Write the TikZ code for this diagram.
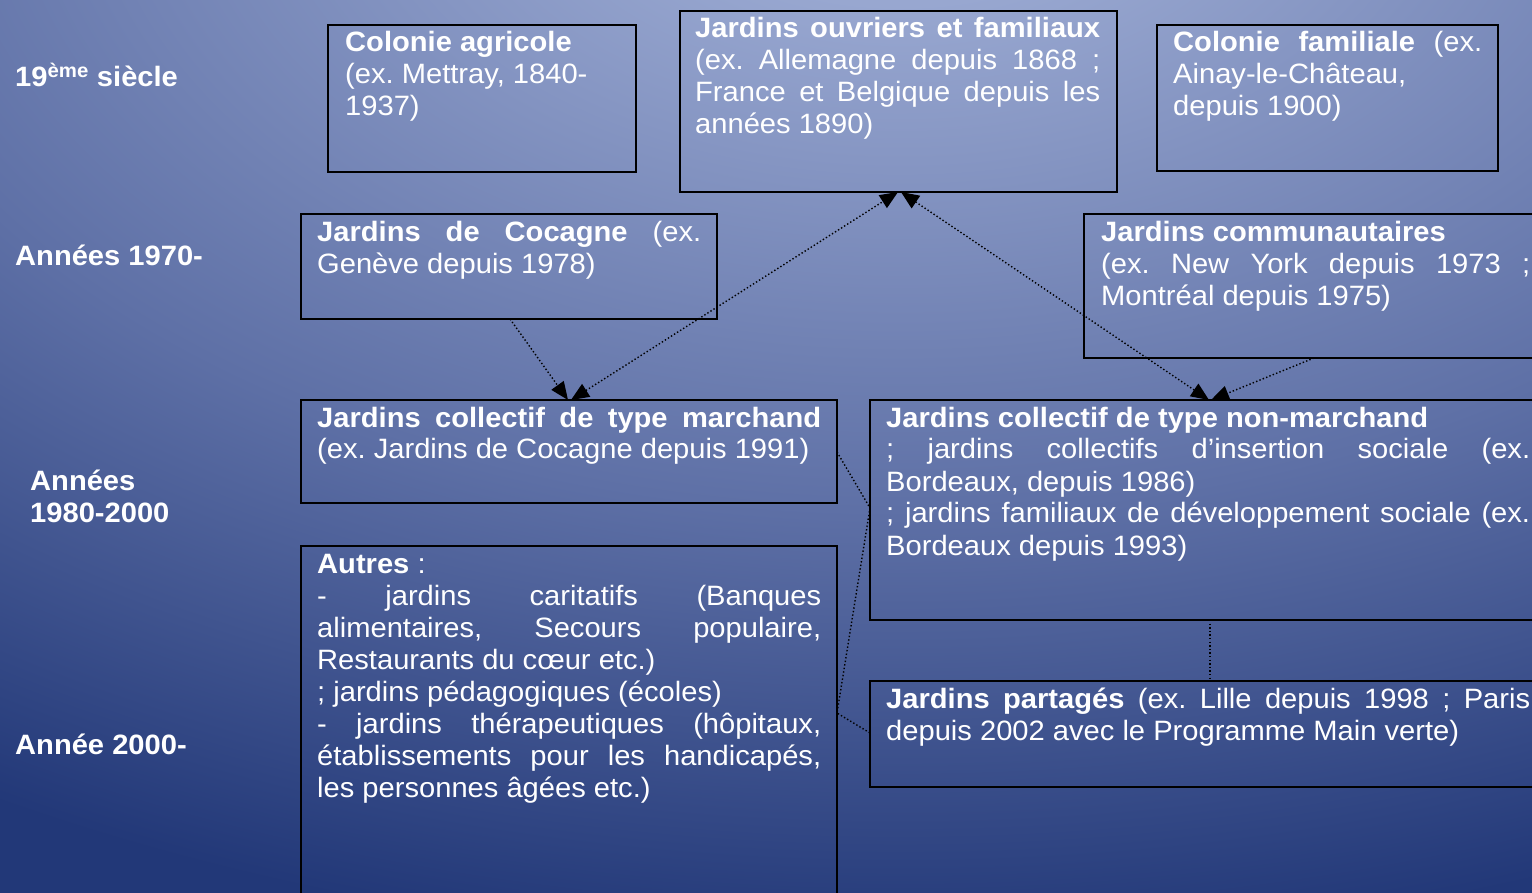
\documentclass[tikz,border=0pt]{standalone}
\usepackage{fontspec}
\setmainfont{Liberation Sans}[FakeStretch=1.04]
\usetikzlibrary{arrows.meta}
\definecolor{bgA}{RGB}{170,184,220}
\definecolor{bgB}{RGB}{152,167,208}
\definecolor{bgC}{RGB}{94,112,166}
\definecolor{bgD}{RGB}{34,56,120}
\pgfdeclareradialshading{bgshade}{\pgfpoint{0bp}{0bp}}{color(0bp)=(bgA); color(3.5bp)=(bgB); color(15bp)=(bgC); color(25bp)=(bgD); color(50bp)=(bgD)}
\newcommand{\jl}[2]{\makebox[#1][s]{#2}}
\frenchspacing
\begin{document}
\begin{tikzpicture}[x=1pt,y=-1pt,
  box/.style={draw=black, line width=1.5pt, anchor=north west, inner sep=0pt, outer sep=0pt},
  txt/.style={anchor=base west, inner sep=0pt, text=white, font=\fontsize{28}{32}\selectfont},
  lbl/.style={anchor=base west, inner sep=0pt, text=white, font=\fontsize{28}{32}\selectfont\bfseries},
  conn/.style={draw=black, line width=1.4pt, dash pattern=on 1.4pt off 2.2pt},
  tipend/.style={-{Triangle[length=18pt,width=15pt]}},
  tipboth/.style={{Triangle[length=18pt,width=15pt]}-{Triangle[length=18pt,width=15pt]}}]
\useasboundingbox (0,0) rectangle (1532,893);
\clip (0,0) rectangle (1532,893);
% background
\fill[bgD] (0,0) rectangle (1532,893);
\shade[shading=bgshade] (900,-150) ellipse [x radius=1800pt, y radius=1100pt];

% left labels
\node[lbl] (l19) at (15,87) {19\textsuperscript{ème} siècle};
\node[lbl] (l70) at (15,266) {Années 1970-};
\node[lbl] (l80) at (30,490) {\parbox[t]{200pt}{Années\\1980-2000}};
\node[lbl] (l00) at (15,754) {Année 2000-};

% boxes
\node[box, minimum width=308pt, minimum height=147pt] (colagr) at (328,25) {};
\node[box, minimum width=437pt, minimum height=181pt] (ouv) at (680,11) {};
\node[box, minimum width=341pt, minimum height=146pt] (colfam) at (1157,25) {};
\node[box, minimum width=416pt, minimum height=105pt] (coc) at (301,214) {};
\node[box, minimum width=462pt, minimum height=144pt] (com) at (1084,214) {};
\node[box, minimum width=536pt, minimum height=103pt] (mar) at (301,400) {};
\node[box, minimum width=676pt, minimum height=220pt] (nm) at (870,400) {};
\node[box, minimum width=536pt, minimum height=400pt] (aut) at (301,546) {};
\node[box, minimum width=676pt, minimum height=106pt] (par) at (870,681) {};

% texts
\node[txt] (colagrT) at (345,52) {\parbox[t]{280pt}{\raggedright\textbf{Colonie agricole}\\(ex. Mettray, 1840-\\1937)}};
\node[txt] (ouvT) at (695,38) {\parbox[t]{405pt}{\raggedright
  \jl{405pt}{\textbf{Jardins ouvriers et familiaux}}\\
  \jl{405pt}{(ex. Allemagne depuis 1868 ;}\\
  \jl{405pt}{France et Belgique depuis les}\\
  années 1890)}};
\node[txt] (colfamT) at (1173,52) {\parbox[t]{309pt}{\raggedright
  \jl{309pt}{\textbf{Colonie familiale} (ex.}\\
  Ainay-le-Château,\\
  depuis 1900)}};
\node[txt] (cocT) at (317,242) {\parbox[t]{384pt}{\raggedright
  \jl{384pt}{\textbf{Jardins de Cocagne} (ex.}\\
  Genève depuis 1978)}};
\node[txt] (comT) at (1101,242) {\parbox[t]{429pt}{\raggedright
  \textbf{Jardins communautaires}\\
  \jl{429pt}{(ex. New York depuis 1973 ;}\\
  Montréal depuis 1975)}};
\node[txt] (marT) at (317,427) {\parbox[t]{504pt}{\raggedright
  \jl{504pt}{\textbf{Jardins collectif de type marchand}}\\
  (ex. Jardins de Cocagne depuis 1991)}};
\node[txt] (nmT) at (886,427) {\parbox[t]{644pt}{\raggedright
  \textbf{Jardins collectif de type non-marchand}\\
  \jl{644pt}{; jardins collectifs d’insertion sociale (ex.}\\
  Bordeaux, depuis 1986)\\
  \jl{644pt}{; jardins familiaux de développement sociale (ex.}\\
  Bordeaux depuis 1993)}};
\node[txt] (autT) at (317,573) {\parbox[t]{504pt}{\raggedright
  \textbf{Autres} :\\
  \jl{504pt}{- jardins caritatifs (Banques}\\
  \jl{504pt}{alimentaires, Secours populaire,}\\
  Restaurants du cœur etc.)\\
  ; jardins pédagogiques (écoles)\\
  \jl{504pt}{- jardins thérapeutiques (hôpitaux,}\\
  \jl{504pt}{établissements pour les handicapés,}\\
  les personnes âgées etc.)}};
\node[txt] (parT) at (886,708) {\parbox[t]{644pt}{\raggedright
  \jl{644pt}{\textbf{Jardins partagés} (ex. Lille depuis 1998 ; Paris}\\
  depuis 2002 avec le Programme Main verte)}};

% connector points on box borders
\path (coc.south west) ++(209,0) coordinate (cocB);
\path (mar.north west) ++(267,0) coordinate (marT1);
\path (mar.north west) ++(270,0) coordinate (marT2);
\path (ouv.south west) ++(218,0) coordinate (ouvB1);
\path (ouv.south west) ++(221,0) coordinate (ouvB2);
\path (nm.north west) ++(339,0) coordinate (nmT1);
\path (nm.north west) ++(341,0) coordinate (nmT2);
\path (com.south west) ++(230,0) coordinate (comB);
\path (mar.north east) ++(0,52) coordinate (marE);
\path (nm.north west) ++(0,108) coordinate (nmW);
\path (aut.north east) ++(0,167) coordinate (autE);
\path (par.north west) ++(0,52) coordinate (parW);
\path (nm.south west) ++(340,0) coordinate (nmB);
\path (par.north west) ++(340,0) coordinate (parTop);

% connectors
\draw[conn, tipend] (cocB) -- (marT1);
\draw[conn, tipboth] (marT2) -- (ouvB1);
\draw[conn, tipboth] (ouvB2) -- (nmT1);
\draw[conn, tipend] (comB) -- (nmT2);
\draw[conn] (marE) -- (nmW) -- (autE) -- (parW);
\draw[conn] (nmB) -- (parTop);
\end{tikzpicture}
\end{document}
